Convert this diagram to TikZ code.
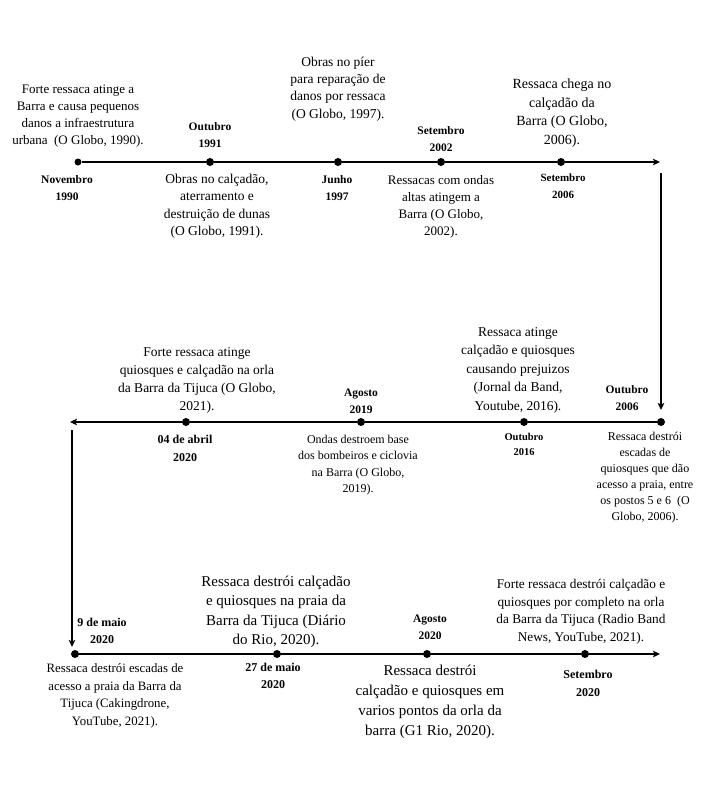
\documentclass[tikz,border=0pt]{standalone}
\usepackage{fontspec}
\setmainfont{Liberation Serif}
\usepackage{tikz}
\usetikzlibrary{arrows.meta}
\tikzset{
    time-dot/.style = {circle, fill=black, inner sep=0pt, minimum size=8pt},
    time-line/.style = {line width=1.6pt, black},
    time-arrow/.style = {time-line, -{Stealth[length=7pt, width=6.5pt, inset=1.5pt]}},
    event-text/.style = {align=center, inner sep=0pt, font=\fontsize{13}{17}\selectfont},
    date-label/.style = {align=center, inner sep=0pt, font=\bfseries\fontsize{11.5}{17}\selectfont},
}

\begin{document}
\begin{tikzpicture}[x=1pt, y=-1pt]
\useasboundingbox (0,0) rectangle (724,793);

\node[time-dot, minimum size=7pt] (n1990) at (78,162) {};
\node[time-dot] (o1991) at (210,162) {};
\node[time-dot] (j1997) at (338,162) {};
\node[time-dot] (s2002) at (441,162) {};
\node[time-dot] (s2006) at (561,162) {};
\coordinate (end-one) at (660,162);
\draw[time-line] (n1990) -- (o1991) -- (j1997) -- (s2002) -- (s2006);
\draw[time-arrow] (s2006) -- (end-one);

\coordinate (down-one-top) at (661,173);
\coordinate (down-one-end) at (661,410);
\draw[time-arrow] (down-one-top) -- (down-one-end);

\node[time-dot] (o2006) at (661,422) {};
\node[time-dot] (o2016) at (524,422) {};
\node[time-dot] (a2019) at (361,422) {};
\node[time-dot] (abr2020) at (186,422) {};
\coordinate (end-two) at (70,422);
\draw[time-line] (o2006) -- (o2016) -- (a2019) -- (abr2020);
\draw[time-arrow] (abr2020) -- (end-two);

\coordinate (down-two-top) at (72,430);
\coordinate (down-two-end) at (72,647);
\draw[time-arrow] (down-two-top) -- (down-two-end);

\node[time-dot] (mai2020) at (75,654) {};
\node[time-dot] (mai27) at (277,654) {};
\node[time-dot] (ago2020) at (427,654) {};
\node[time-dot] (set2020) at (585,654) {};
\coordinate (end-three) at (660,654);
\draw[time-line] (mai2020) -- (mai27) -- (ago2020) -- (set2020);
\draw[time-arrow] (set2020) -- (end-three);

\node[event-text] (t1990) at (78,116) {Forte ressaca atinge a\\Barra e causa pequenos\\danos a infraestrutura\\urbana\ \ (O Globo, 1990).};
\node[date-label] (l1990) at (67,188.5) {Novembro\\1990};
\node[date-label] (l1991) at (210,135.5) {Outubro\\1991};
\node[event-text, font=\fontsize{13.5}{17.5}\selectfont] (t1991) at (217,206) {Obras no calçadão,\\aterramento e\\destruição de dunas\\(O Globo, 1991).};
\node[event-text, font=\fontsize{13.5}{17.3}\selectfont] (t1997) at (338,89) {Obras no píer\\para reparação de\\danos por ressaca\\(O Globo, 1997).};
\node[date-label] (l1997) at (337,188.5) {Junho\\1997};
\node[date-label] (l2002) at (441,139.5) {Setembro\\2002};
\node[event-text] (t2002) at (441,206.5) {Ressacas com ondas\\altas atingem a\\Barra (O Globo,\\2002).};
\node[event-text, font=\fontsize{14}{18.7}\selectfont] (t2006a) at (562,113) {Ressaca chega no\\calçadão da\\Barra (O Globo,\\2006).};
\node[date-label, font=\bfseries\fontsize{11}{17}\selectfont] (l2006a) at (563,186.5) {Setembro\\2006};

\node[date-label] (l2006b) at (627,398.5) {Outubro\\2006};
\node[event-text, font=\fontsize{12}{16}\selectfont] (t2006b) at (645,478) {Ressaca destrói\\escadas de\\quiosques que dão\\acesso a praia, entre\\os postos 5 e 6\ \ (O\\Globo, 2006).};
\node[event-text, font=\fontsize{13.5}{18.5}\selectfont] (t2016) at (518,370) {Ressaca atinge\\calçadão e quiosques\\causando prejuizos\\(Jornal da Band,\\Youtube, 2016).};
\node[date-label, font=\bfseries\fontsize{10.5}{15.5}\selectfont] (l2016) at (524,444.5) {Outubro\\2016};
\node[date-label] (l2019) at (361,401) {Agosto\\2019};
\node[event-text, font=\fontsize{12}{16.5}\selectfont] (t2019) at (358,465) {Ondas destroem base\\dos bombeiros e ciclovia\\na Barra (O Globo,\\2019).};
\node[event-text, font=\fontsize{13.5}{18}\selectfont] (t2021a) at (197,380) {Forte ressaca atinge\\quiosques e calçadão na orla\\da Barra da Tijuca (O Globo,\\2021).};
\node[date-label, font=\bfseries\fontsize{12}{18}\selectfont] (labr2020) at (185,448) {04 de abril\\2020};

\node[date-label, font=\bfseries\fontsize{12}{17}\selectfont] (lmai2020) at (102,630.5) {9 de maio\\2020};
\node[event-text, font=\fontsize{12.8}{17.5}\selectfont] (tmai2020) at (115,696) {Ressaca destrói escadas de\\acesso a praia da Barra da\\Tijuca (Cakingdrone,\\YouTube, 2021).};
\node[event-text, font=\fontsize{15}{19.3}\selectfont] (tmai27) at (276,612) {Ressaca destrói calçadão\\e quiosques na praia da\\Barra da Tijuca (Diário\\do Rio, 2020).};
\node[date-label, font=\bfseries\fontsize{12}{17}\selectfont] (lmai27) at (273,675.5) {27 de maio\\2020};
\node[date-label] (lago2020) at (430,627.5) {Agosto\\2020};
\node[event-text, font=\fontsize{15}{20}\selectfont] (tago2020) at (430,702) {Ressaca destrói\\calçadão e quiosques em\\varios pontos da orla da\\barra (G1 Rio, 2020).};
\node[event-text, font=\fontsize{13.3}{17.5}\selectfont] (tset2020) at (581,612) {Forte ressaca destrói calçadão e\\quiosques por completo na orla\\da Barra da Tijuca (Radio Band\\News, YouTube, 2021).};
\node[date-label, font=\bfseries\fontsize{12}{18}\selectfont] (lset2020) at (588,683) {Setembro\\2020};
\end{tikzpicture}
\end{document}
